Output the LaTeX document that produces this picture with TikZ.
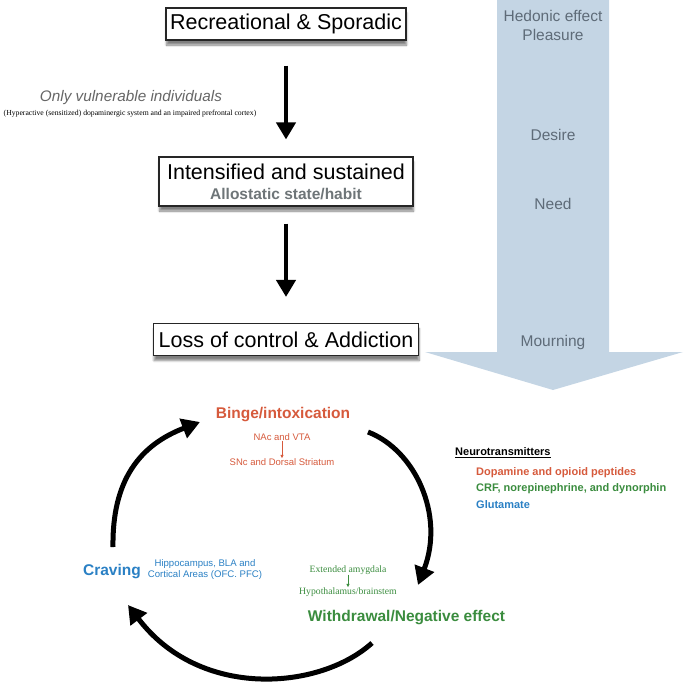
\documentclass[tikz,border=0pt]{standalone}
\usepackage{fontspec}
\setmainfont{Liberation Sans}
\newfontfamily\serifface{Liberation Serif}
\usetikzlibrary{arrows.meta,positioning,shadows.blur}

\definecolor{bingered}{HTML}{D65A3C}
\definecolor{withgreen}{HTML}{3A8C3E}
\definecolor{cravblue}{HTML}{2A80C4}
\definecolor{feelfill}{HTML}{C4D5E4}
\definecolor{feeltext}{HTML}{5E6B78}
\definecolor{subgrey}{HTML}{6E7578}

\newcommand{\fsz}[2]{\fontsize{#1}{#2}\selectfont}

\tikzset{
  stage/.style={draw=black!85, line width=1.1pt, fill=white, align=center,
    inner xsep=2pt, inner ysep=0pt, minimum height=32pt, font=\fsz{21.5}{26},
    blur shadow={shadow xshift=0.5pt, shadow yshift=-5pt, shadow blur steps=8, shadow opacity=50}},
  flow/.style={line width=4pt, -{Triangle[length=17pt,width=19pt]}},
  cyc/.style={line width=5pt, -{Triangle[length=18pt,width=20pt]}},
  feel/.style={text=feeltext, font=\fsz{15.5}{19}, align=center, inner sep=0pt},
  area/.style={font=\fsz{9.5}{11}, align=center, inner sep=0pt},
  phase/.style={font=\bfseries\fsz{15.5}{18}, inner sep=0pt},
  nt/.style={font=\bfseries\fsz{11}{13}, anchor=west, inner sep=0pt},
  tiny/.style={line width=0.6pt, -{Latex[length=3.5pt,width=3.5pt]}},
}

\begin{document}
\begin{tikzpicture}[x=1pt, y=-1pt]
\useasboundingbox (0,0) rectangle (685,685);

%% feeling arrow
\fill[feelfill] (497,0) -- (609,0) -- (609,352) -- (683,352) -- (553,390)
  -- (425,352) -- (497,352) -- cycle;

\node[feel] (hedonic) at (553,25.5) {Hedonic effect\\Pleasure};
\node[feel] (desire) at (553,135) {Desire};
\node[feel] (need) at (553,204) {Need};
\node[feel] (mourn) at (553,342) {Mourning};

%% stages
\node[stage, minimum width=240pt] (rec) at (286,24) {Recreational \& Sporadic};
\node[stage, minimum width=254pt, minimum height=49pt] (int) at (286,181.5)
  {Intensified and sustained\\[-6pt]{\bfseries\color{subgrey}\fsz{15.5}{18}Allostatic state/habit}};
\node[stage, minimum width=265pt] (loss) at (286,339.5) {Loss of control \& Addiction};

\node[font=\itshape\fsz{15.3}{18}, text=black!60, inner sep=0pt] (vuln) at (131,98) {Only vulnerable individuals};
\node[font=\serifface\fsz{7.7}{9}, inner sep=0pt] (hyper) at (130,114)
  {(Hyperactive (sensitized) dopaminergic system and an impaired prefrontal cortex)};

\draw[flow, shorten <=25pt, shorten >=17pt] (rec) -- (int);
\draw[flow, shorten <=17pt, shorten >=26pt] (int) -- (loss);

%% addiction cycle
\node[phase, text=bingered] (binge) at (283,415) {Binge/intoxication};
\node[area, text=bingered] (nac) at (282,437) {NAc and VTA};
\node[area, text=bingered] (snc) at (282,462) {SNc and Dorsal Striatum};
\draw[tiny, bingered] (nac.south) -- (nac.south |- snc.north);

\node[phase, text=cravblue] (crav) at (112,572) {Craving};
\node[area, text=cravblue, font=\fsz{9.6}{11}] (hippo) at (205,569.5)
  {Hippocampus, BLA and\\Cortical Areas (OFC. PFC)};

\node[area, text=withgreen, font=\serifface\fsz{9.7}{11}] (ext) at (348,570) {Extended amygdala};
\node[area, text=withgreen, font=\serifface\fsz{9.7}{11}] (hypo) at (348,592) {Hypothalamus/brainstem};
\draw[tiny, withgreen] (ext.south) -- (ext.south |- hypo.north);
\node[phase, text=withgreen] (with) at (406.5,618) {Withdrawal/Negative effect};

\coordinate (cravout) at (113,547);
\coordinate (bingein) at (200,422);
\coordinate (bingeout) at (368,432);
\coordinate (within) at (418,585);
\coordinate (without) at (372,643);
\coordinate (cravin) at (128,605);

\draw[cyc] (cravout) .. controls (112,480) and (140,445) .. (bingein);
\draw[cyc] (bingeout) .. controls (415,450) and (445,515) .. (within);
\draw[cyc] (without) .. controls (320,690) and (200,700) .. (cravin);

%% neurotransmitters
\node[nt, text=black] (ntitle) at (455,453) {\underline{Neurotransmitters}};
\node[nt, text=bingered] (dopa) at (476,473) {Dopamine and opioid peptides};
\node[nt, text=withgreen] (crf) at (476,489) {CRF, norepinephrine, and dynorphin};
\node[nt, text=cravblue] (glu) at (476,505) {Glutamate};

\end{tikzpicture}
\end{document}
